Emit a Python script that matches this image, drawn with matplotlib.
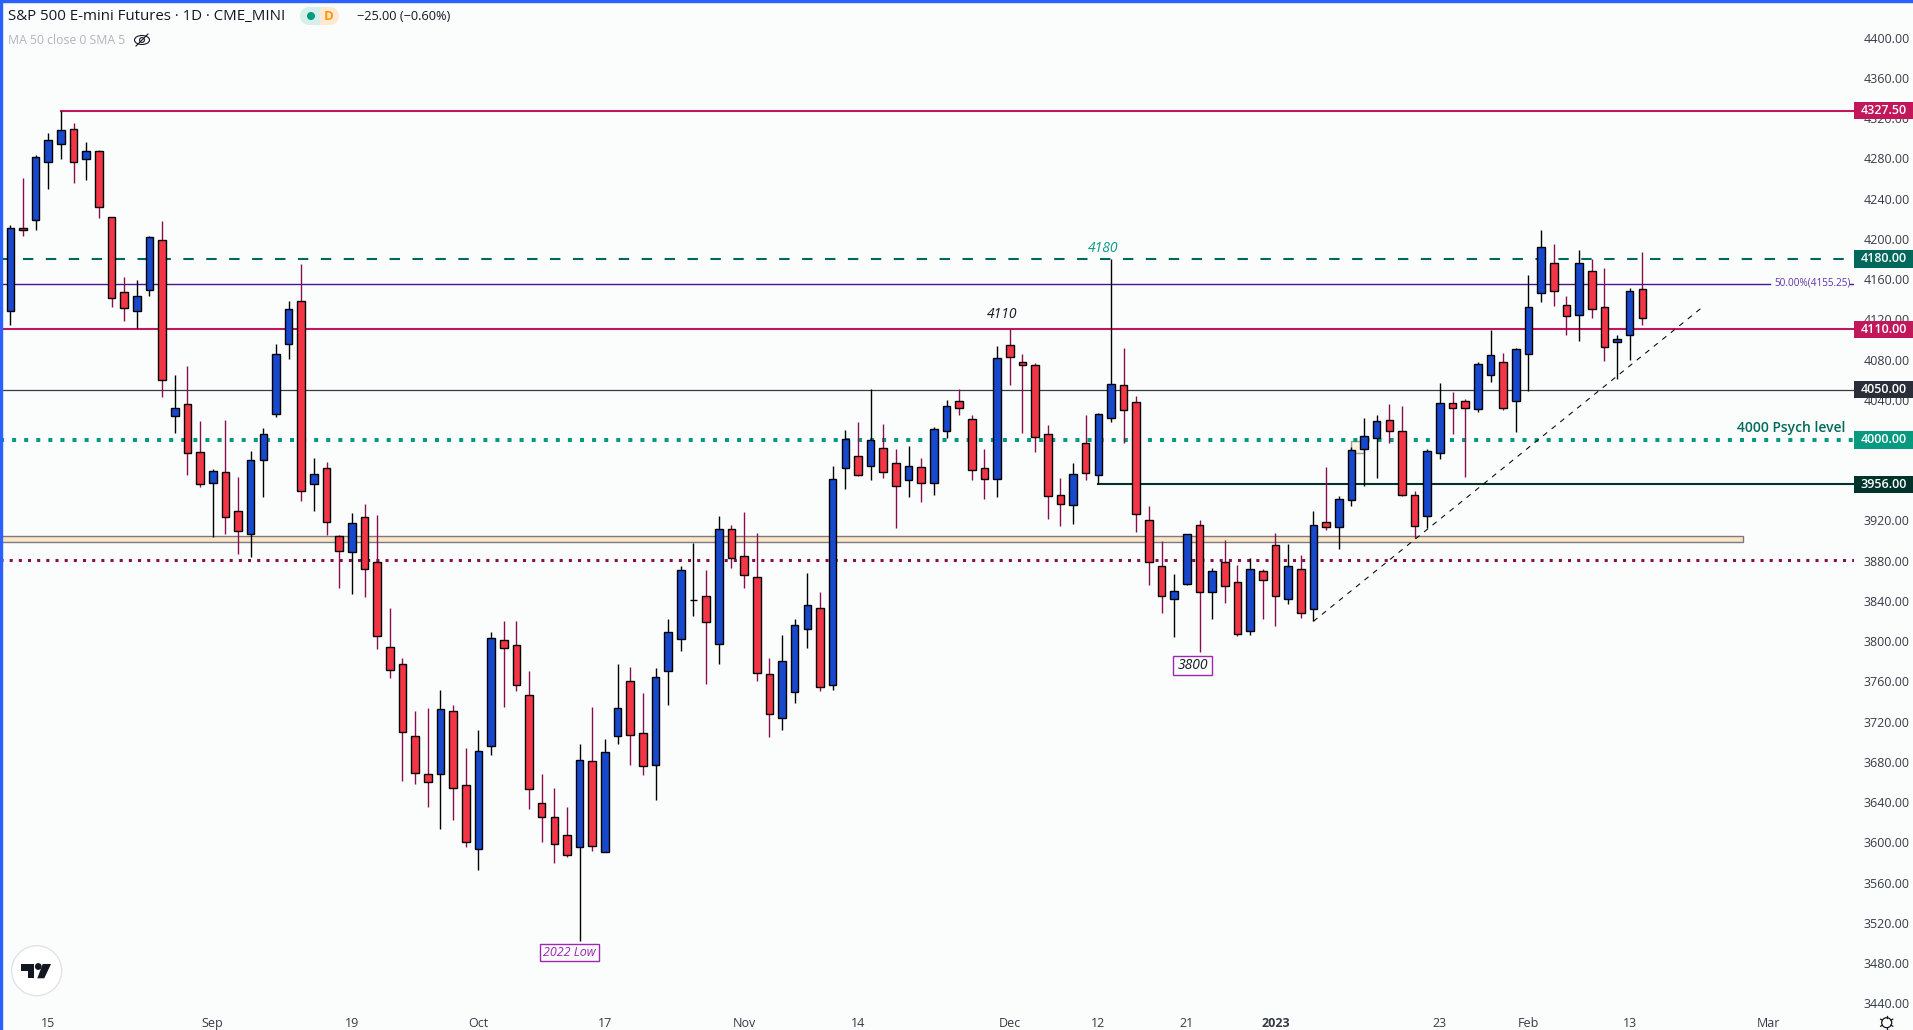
import numpy as np
import matplotlib
matplotlib.use('Agg')
import matplotlib.pyplot as plt
from matplotlib.patches import Rectangle, Circle, Ellipse, Polygon
from matplotlib.transforms import blended_transform_factory

plt.rcParams['font.family'] = ['Open Sans', 'DejaVu Sans']

# OHLC diario (la primera vela queda casi fuera por la izquierda)
opens = [4124.3,
    4128.6, 4210.3, 4219.1, 4276.8, 4294.6, 4309.0, 4279.7, 4287.1, 4221.5, 4146.9,
    4128.0, 4148.9, 4198.6, 4024.2, 4035.5, 3987.8, 3957.5, 3967.9, 3929.1, 3906.8,
    3979.8, 4026.2, 4095.8, 4137.9, 3956.5, 3971.9, 3904.2, 3888.9, 3923.1, 3878.4,
    3793.9, 3776.9, 3705.4, 3667.6, 3668.2, 3730.2, 3656.6, 3593.0, 3696.0, 3800.8,
    3795.8, 3746.1, 3638.7, 3624.8, 3606.9, 3595.6, 3680.5, 3590.6, 3706.0, 3760.0,
    3708.3, 3677.1, 3770.6, 3802.4, 3840.5, 3844.6, 3797.4, 3911.2, 3884.3, 3863.5,
    3767.0, 3723.8, 3749.7, 3812.4, 3832.6, 3756.7, 3972.5, 3983.8, 3974.4, 3991.7,
    3976.8, 3960.5, 3972.9, 3957.5, 4009.2, 4038.5, 4020.6, 3971.9, 3961.5, 4094.2,
    4077.3, 4074.3, 4005.7, 3945.0, 3935.7, 3996.7, 3965.5, 4022.2, 4054.4, 4037.5,
    3920.1, 3874.4, 3842.2, 3857.1, 3915.2, 3849.1, 3878.4, 3858.5, 3810.4, 3869.4,
    3895.3, 3842.2, 3871.4, 3832.2, 3918.2, 3913.8, 3940.6, 3991.3, 4002.3, 4019.6,
    4008.7, 3945.0, 3924.7, 3986.6, 4036.5, 4039.1, 4031.1, 4064.9, 4077.3, 4039.1,
    4085.8, 4145.9, 4175.7, 4133.9, 4124.0, 4167.8, 4132.0, 4097.8, 4104.7, 4149.9]
closes = [4149.2,
    4210.8, 4209.3, 4281.1, 4298.0, 4308.0, 4276.8, 4287.1, 4231.4, 4140.9, 4131.0,
    4142.9, 4201.6, 4059.4, 4031.5, 3987.4, 3956.5, 3968.9, 3923.7, 3909.8, 3979.8,
    4005.7, 4085.2, 4130.0, 3949.6, 3965.9, 3918.8, 3889.9, 3917.2, 3872.0, 3805.4,
    3771.6, 3709.3, 3669.2, 3660.2, 3732.2, 3654.2, 3600.5, 3690.4, 3802.8, 3793.5,
    3756.7, 3653.2, 3624.8, 3598.6, 3587.6, 3681.5, 3596.6, 3689.4, 3733.2, 3706.9,
    3675.5, 3764.0, 3808.8, 3870.4, 3840.5, 3819.3, 3911.2, 3883.0, 3866.0, 3768.6,
    3727.2, 3780.0, 3815.7, 3835.6, 3754.7, 3960.9, 4000.7, 3965.5, 3999.7, 3968.5,
    3954.6, 3973.8, 3957.5, 4010.6, 4033.5, 4032.1, 3969.9, 3961.5, 4081.2, 4082.2,
    4074.9, 4003.3, 3944.6, 3936.7, 3965.9, 3967.5, 4025.6, 4055.4, 4030.1, 3926.7,
    3879.0, 3845.2, 3849.5, 3906.2, 3849.1, 3869.4, 3855.1, 3807.4, 3871.4, 3861.1,
    3845.2, 3874.4, 3828.3, 3915.2, 3913.8, 3941.0, 3989.8, 4003.7, 4018.6, 4009.2,
    3945.6, 3914.8, 3988.8, 4036.5, 4032.1, 4032.1, 4075.3, 4084.2, 4032.1, 4090.2,
    4132.0, 4191.6, 4147.9, 4123.6, 4175.7, 4130.6, 4092.2, 4100.1, 4147.9, 4121.6]
highs = [4149.2,
    4213.8, 4260.5, 4283.4, 4305.3, 4327.5, 4315.2, 4296.3, 4288.4, 4221.5, 4162.1,
    4159.1, 4202.9, 4217.8, 4064.6, 4073.6, 4018.9, 3971.2, 4019.9, 3963.2, 3989.1,
    4011.9, 4095.5, 4138.2, 4175.0, 3982.1, 3978.1, 3905.5, 3927.4, 3936.4, 3925.4,
    3832.9, 3782.9, 3730.5, 3733.5, 3751.4, 3736.2, 3693.7, 3711.6, 3809.1, 3820.0,
    3820.0, 3770.3, 3667.9, 3653.9, 3635.0, 3697.7, 3734.5, 3702.7, 3777.2, 3774.3,
    3748.4, 3773.3, 3822.0, 3874.7, 3897.6, 3870.7, 3924.4, 3915.5, 3928.4, 3907.5,
    3783.2, 3806.1, 3822.0, 3867.7, 3848.8, 3974.1, 4009.9, 4017.9, 4050.4, 4015.9,
    3991.0, 3994.0, 3982.1, 4012.9, 4039.8, 4050.4, 4024.9, 3991.0, 4093.5, 4110.1,
    4085.5, 4076.3, 4014.9, 3962.2, 3977.1, 4024.9, 4026.8, 4180.0, 4091.5, 4043.8,
    3934.4, 3899.3, 3866.7, 3906.2, 3920.4, 3872.4, 3900.3, 3875.7, 3882.4, 3871.4,
    3907.2, 3896.6, 3885.3, 3929.4, 3973.2, 3944.0, 3993.0, 4021.9, 4024.9, 4035.8,
    4033.8, 3949.3, 3990.8, 4056.7, 4047.4, 4040.5, 4077.3, 4109.4, 4086.5, 4091.5,
    4164.1, 4208.8, 4194.9, 4143.2, 4188.9, 4180.0, 4171.0, 4104.1, 4150.9, 4187.0]
lows = [4124.3,
    4114.4, 4202.9, 4208.8, 4249.6, 4279.4, 4255.6, 4258.6, 4220.8, 4132.3, 4118.3,
    4111.4, 4143.5, 4043.1, 4007.3, 3965.2, 3953.6, 3903.8, 3906.5, 3886.6, 3883.6,
    3943.3, 4022.9, 4080.5, 3939.3, 3929.4, 3905.5, 3852.8, 3846.9, 3843.9, 3792.2,
    3763.3, 3661.2, 3658.2, 3635.3, 3613.2, 3622.1, 3595.3, 3572.4, 3686.8, 3734.5,
    3750.4, 3633.0, 3600.2, 3579.4, 3585.3, 3502.1, 3591.3, 3590.6, 3697.7, 3676.8,
    3666.9, 3642.0, 3736.5, 3790.2, 3825.0, 3757.4, 3777.2, 3872.7, 3852.8, 3760.3,
    3704.7, 3711.6, 3738.5, 3793.2, 3750.4, 3751.4, 3951.3, 3964.2, 3960.2, 3962.2,
    3912.5, 3943.3, 3938.3, 3945.3, 4002.0, 4024.9, 3960.2, 3941.3, 3943.3, 4054.7,
    4007.0, 3988.1, 3921.4, 3914.5, 3916.5, 3960.2, 3956.2, 4017.9, 3997.3, 3908.5,
    3855.8, 3828.0, 3804.1, 3855.8, 3789.2, 3822.0, 3837.9, 3805.1, 3806.1, 3822.0,
    3815.0, 3836.9, 3823.0, 3819.7, 3910.5, 3891.6, 3934.4, 3954.3, 3962.2, 3997.0,
    3944.3, 3902.5, 3912.5, 3981.4, 4006.0, 3963.2, 4027.8, 4057.7, 4030.1, 4008.0,
    4048.7, 4137.2, 4133.3, 4104.4, 4098.4, 4121.3, 4078.6, 4060.7, 4079.6, 4114.4]

y_ticks = list(range(3440, 4401, 40))
x_tick_pos = [3, 16, 27, 37, 47, 58, 67, 79, 86, 93, 100, 113, 120, 128, 139]
x_tick_labels = ['15', 'Sep', '19', 'Oct', '17', 'Nov', '14', 'Dec', '12', '21', '2023', '23', 'Feb', '13', 'Mar']

# Niveles horizontales: precio, color de la etiqueta
price_tags = [(4327.5, '#C2185B'), (4180.0, '#00695C'), (4110.0, '#C2185B'),
              (4050.0, '#2A2E39'), (4000.0, '#089981'), (3956.0, '#00332A')]
fib_level = 4155.25
zone = (3898.8, 3904.2)
red_dots_level = 3880.4
trend_x = [103, 133.7]
trend_y = [3819.7, 4131.6]
bg = '#FBFDFD'
blue, red = '#1848CC', '#F23645'
wick_up, wick_down = '#000000', '#880E4F'

W, H = 1913, 1030
ax_w, ax_h = 1854, 1006
fig = plt.figure(figsize=(W / 100, H / 100), dpi=100, facecolor=bg)
ax = fig.add_axes([0, 1 - ax_h / H, ax_w / W, ax_h / H], facecolor=bg)
ax.set_xlim(-0.814, 145.73)
ax.set_ylim(3437.2, 4437.5)

opens, closes, highs, lows = map(np.array, (opens, closes, highs, lows))
x = np.arange(len(opens)) - 1
up = closes >= opens

# Velas
ax.vlines(x, lows, highs, colors=np.where(up, wick_up, wick_down), linewidth=1.0, zorder=3)
ax.bar(x, np.abs(closes - opens), bottom=np.minimum(opens, closes), width=0.6,
       color=np.where(up, blue, red), edgecolor='black', linewidth=1.0, zorder=4)

# Lineas de nivel
ax.plot([4, 146], [4327.5] * 2, color='#C2185B', lw=1.5, zorder=2)
ax.axhline(4110, color='#C2185B', lw=1.5, zorder=2)
ax.axhline(4180, color='#00695C', lw=1.5, ls=(0, (5, 6)), zorder=2)
ax.axhline(4050, color='#363A45', lw=0.9, zorder=2)
ax.axhline(4000, color='#089981', lw=2.9, ls=(0, (1, 2)), zorder=2)
ax.plot([86, 146], [3956] * 2, color='#00332A', lw=1.5, zorder=2)
ax.axhline(red_dots_level, color='#880E4F', lw=2.2, ls=(0, (1, 2)), zorder=2)

trans = blended_transform_factory(ax.transAxes, ax.transData)
ax.plot([0, 1770 / ax_w], [fib_level] * 2, color='#4A148C', lw=1.0, transform=trans, zorder=2)
ax.plot([1850 / ax_w, 1], [fib_level] * 2, color='#4A148C', lw=1.0, transform=trans, zorder=2)
ax.text(1813 / ax_w, fib_level + 0.5, '50.00%(4155.25)', color='#5E35B1', fontsize=7.2,
        ha='center', va='center', transform=trans)

ax.add_patch(Rectangle((0, zone[0]), 1743 / ax_w, zone[1] - zone[0], transform=trans,
                       facecolor='#FFE5C4', edgecolor='#787B86', lw=1.0, zorder=1.5))
ax.add_patch(Rectangle((106, 3986.8), 1, 11.9, facecolor='#FFF3E0', edgecolor='#9E9E9E', lw=1.0, zorder=1.5))
ax.plot(trend_x, trend_y, color='black', lw=0.75, ls=(0, (5, 5.5)), zorder=5)

# Textos sobre el grafico
ax.text(1102.7 / ax_w, 4190, '4180', color='#089981', style='italic', fontsize=10, fontweight='medium',
        ha='center', va='center', transform=trans)
ax.text(1002.3 / ax_w, 4124.5, '4110', color='#131722', style='italic', fontsize=10, fontweight='medium',
        ha='center', va='center', transform=trans)
ax.text(1790.7 / ax_w, 4012.3, '4000 Psych level', color='#00695C', fontsize=10, fontweight='semibold',
        ha='center', va='center', transform=trans)
ax.add_patch(Rectangle((540.3 / ax_w, 3481.5), 59 / ax_w, 17, transform=trans, facecolor=bg,
                       edgecolor='#9C27B0', lw=1.0, zorder=6))
ax.text(569.8 / ax_w, 3490, '2022 Low', color='#9C27B0', style='italic', fontsize=9,
        ha='center', va='center', transform=trans, zorder=7)
ax.add_patch(Rectangle((1173.3 / ax_w, 3766), 39 / ax_w, 19.5, transform=trans, facecolor=bg,
                       edgecolor='#9C27B0', lw=1.0, zorder=6))
ax.text(1192.8 / ax_w, 3775.8, '3800', color='#131722', style='italic', fontsize=10, fontweight='medium',
        ha='center', va='center', transform=trans, zorder=7)

# Etiquetas de precio
for price, col in price_tags:
    ax.add_patch(Rectangle((1, price - 8.5), 59 / ax_w, 17, transform=trans, facecolor=col,
                           edgecolor='none', clip_on=False, zorder=8))
    ax.text(1 + 30 / ax_w, price, f'{price:.2f}', color='white', fontsize=9, fontweight='semibold',
            ha='center', va='center', transform=trans, clip_on=False, zorder=9)

# Ejes
ax.yaxis.tick_right()
ax.set_yticks(y_ticks)
ax.set_yticklabels([f'{v:.2f}' for v in y_ticks])
ax.set_xticks(x_tick_pos)
ax.set_xticklabels(x_tick_labels)
ax.tick_params(axis='y', length=0, pad=7.2, labelsize=9, labelcolor='#363A45')
ax.tick_params(axis='x', length=0, pad=7.9, labelsize=9, labelcolor='#363A45')
ax.get_xticklabels()[x_tick_labels.index('2023')].set_fontweight('bold')
for s in ax.spines.values():
    s.set_visible(False)

# Capa de pixeles para la cabecera y los iconos
top = fig.add_axes([0, 0, 1, 1], facecolor='none')
top.set_xlim(0, W)
top.set_ylim(H, 0)
top.axis('off')
top.add_patch(Rectangle((0, 0), W, 2, color='#2962FF'))
top.add_patch(Rectangle((0, 0), 1.5, H, color='#2962FF'))
top.text(8, 16.5, 'S&P 500 E-mini Futures · 1D · CME_MINI', fontsize=10.8, color='#131722', va='center')
top.add_patch(Rectangle((309, 7), 11, 18, color='#D5EFEA', lw=0))
top.add_patch(Circle((309, 16), 9, color='#D5EFEA', lw=0))
top.add_patch(Rectangle((320, 7), 10, 18, color='#FFE9D2', lw=0))
top.add_patch(Circle((330, 16), 9, color='#FFE9D2', lw=0))
top.add_patch(Circle((311, 16), 4, color='#089981', lw=0))
top.text(329, 16, 'D', fontsize=9.5, color='#FF9800', fontweight='bold', ha='center', va='center')
top.text(357, 17, '−25.00 (−0.60%)', fontsize=9.2, color='#131722', va='center')
top.text(8, 40, 'MA 50 close 0 SMA 5', fontsize=8.8, color='#B2B5BE', va='center')
top.add_patch(Ellipse((142, 40), 15, 9, fill=False, edgecolor='#131722', lw=0.8))
top.add_patch(Circle((142, 40), 2.4, fill=False, edgecolor='#131722', lw=0.8))
top.plot([136, 148], [46, 34], color='#131722', lw=0.8)

# Logo
top.add_patch(Circle((36.7, 970.7), 25, facecolor='white', edgecolor='#E0E3EB', lw=1.0))
top.add_patch(Polygon([(21, 964), (34.3, 964), (34.3, 978.3), (28, 978.3), (28, 971), (21, 971)],
                      color='#131722', lw=0))
top.add_patch(Circle((38.3, 966.5), 3.4, color='#131722', lw=0))
top.add_patch(Polygon([(42.7, 964), (51, 964), (44.3, 978.3), (37.3, 978.3)], color='#131722', lw=0))

# Engranaje
top.add_patch(Circle((1886.7, 1022.7), 5, fill=False, edgecolor='#131722', lw=0.9))
for a in np.arange(0, 2 * np.pi, np.pi / 3):
    top.plot([1886.7 + 5 * np.cos(a + np.pi / 2), 1886.7 + 7 * np.cos(a + np.pi / 2)],
             [1022.7 + 5 * np.sin(a + np.pi / 2), 1022.7 + 7 * np.sin(a + np.pi / 2)],
             color='#131722', lw=0.9)

fig.savefig('out.png', dpi=100, facecolor=bg)
